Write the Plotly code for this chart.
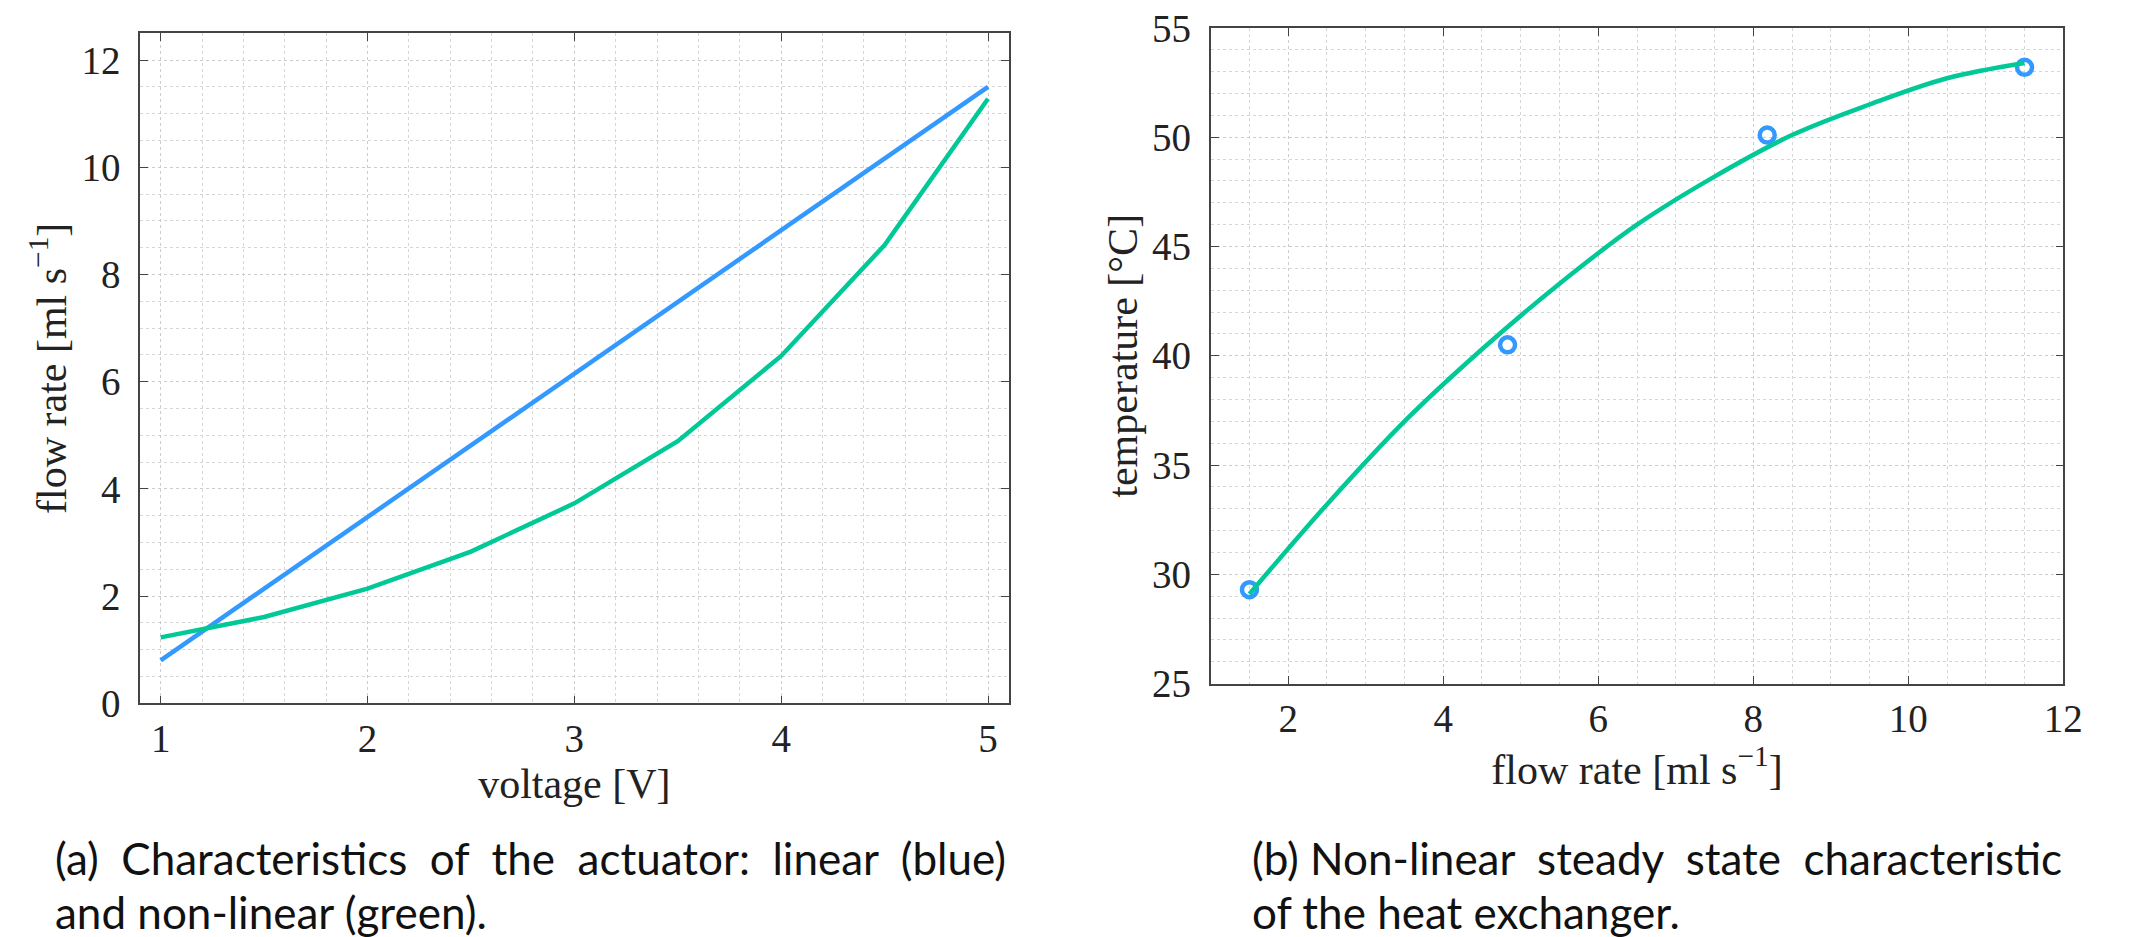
import plotly.graph_objects as go

# ---- data (a): actuator characteristics ----
voltage_lin = [1, 5]
flow_lin = [0.8, 11.5]
voltage_nl = [1, 1.5, 2, 2.5, 3, 3.5, 4, 4.5, 5]
flow_nl = [1.23, 1.61, 2.14, 2.83, 3.73, 4.89, 6.48, 8.55, 11.28]

# ---- data (b): heat exchanger steady state ----
meas_flow = [1.5, 4.83, 8.18, 11.5]
meas_temp = [29.3, 40.5, 50.1, 53.2]
fit_flow = [1.5, 2.5, 3.5, 4.5, 5.5, 6.5, 7.5, 8.5, 9.5, 10.5, 11.5]
fit_temp = [29.1, 33.2, 37.0, 40.3, 43.3, 46.0, 48.2, 50.1, 51.5, 52.7, 53.4]

x_ticks_a = [1, 2, 3, 4, 5]
y_ticks_a = [0, 2, 4, 6, 8, 10, 12]
x_ticks_b = [2, 4, 6, 8, 10, 12]
y_ticks_b = [25, 30, 35, 40, 45, 50, 55]

BLUE = "#3399FF"
GREEN = "#00C896"
W, H = 2129, 937

fig = go.Figure()
fig.add_trace(go.Scatter(x=voltage_lin, y=flow_lin, mode="lines",
                         line=dict(color=BLUE, width=4.5), xaxis="x", yaxis="y",
                         showlegend=False))
fig.add_trace(go.Scatter(x=voltage_nl, y=flow_nl, mode="lines",
                         line=dict(color=GREEN, width=4.5), xaxis="x", yaxis="y",
                         showlegend=False))
fig.add_trace(go.Scatter(x=meas_flow, y=meas_temp, mode="markers",
                         marker=dict(symbol="circle-open", size=15, color=BLUE,
                                     line=dict(width=4.5, color=BLUE)),
                         xaxis="x2", yaxis="y2", showlegend=False))
fig.add_trace(go.Scatter(x=fit_flow, y=fit_temp, mode="lines", line_shape="spline",
                         line=dict(color=GREEN, width=4.5), xaxis="x2", yaxis="y2",
                         showlegend=False))

tick_font = dict(family="Liberation Serif", size=39, color="#222222")
title_font = dict(family="Liberation Serif", size=42, color="#222222")
grid = dict(showgrid=True, gridcolor="#cccccc", gridwidth=1, griddash="dot")
common = dict(showline=True, linecolor="#444444", linewidth=1.6, mirror="ticks",
              ticks="inside", ticklen=8, tickwidth=1.4, tickcolor="#444444",
              tickfont=tick_font, zeroline=False, automargin=False, **grid)

def px_dom(a, b, total):
    return [a / total, b / total]

fig.update_layout(
    width=W, height=H, autosize=False,
    margin=dict(l=0, r=0, t=0, b=0),
    paper_bgcolor="white", plot_bgcolor="white",
    xaxis=dict(domain=px_dom(140, 1008.7, W), range=[0.9, 5.1], tickvals=x_ticks_a,
               anchor="y", ticklabelstandoff=0,
               title=dict(text="voltage [V]", font=title_font, standoff=10),
               minor=dict(dtick=0.2, tick0=1, showgrid=True, gridcolor="#d6d6d6",
                          griddash="dot", ticks=""),
               **common),
    yaxis=dict(domain=[(H - 703.3) / H, (H - 33.3) / H], range=[0, 12.5],
               tickvals=y_ticks_a, anchor="x", ticklabelstandoff=10,
               title=dict(text="flow rate [ml s<sup>−1</sup>]", font=title_font, standoff=2),
               minor=dict(dtick=0.5, tick0=0, showgrid=True, gridcolor="#d6d6d6",
                          griddash="dot", ticks=""),
               **common),
    xaxis2=dict(domain=px_dom(1210.7, 2063.3, W), range=[1, 12], tickvals=x_ticks_b,
                anchor="y2", ticklabelstandoff=0,
                title=dict(text="flow rate [ml s<sup>−1</sup>]", font=title_font, standoff=8),
                minor=dict(dtick=0.5, tick0=1, showgrid=True, gridcolor="#d6d6d6",
                           griddash="dot", ticks=""),
                **common),
    yaxis2=dict(domain=[(H - 683.6) / H, (H - 28) / H], range=[25, 55],
                tickvals=y_ticks_b, anchor="x2", ticklabelstandoff=10,
                title=dict(text="temperature [°C]", font=title_font, standoff=1),
                minor=dict(dtick=1, tick0=25, showgrid=True, gridcolor="#d6d6d6",
                           griddash="dot", ticks=""),
                **common),
)

cap_font = dict(family="Lato", size=44, color="#111111")
NB = "\u00a0"
captions = [
    (53, 858, f"(a){NB} Characteristics{NB} of{NB} the{NB} actuator:{NB} linear{NB} (blue)"),
    (53, 912, "and non-linear (green)."),
    (1250, 858, f"(b) Non-linear{NB} steady{NB} state{NB} characteristic"),
    (1250, 912, "of the heat exchanger."),
]
for x, y, t in captions:
    fig.add_annotation(text=t, x=x / W, y=(H - y) / H, xref="paper", yref="paper",
                       xanchor="left", yanchor="middle", showarrow=False,
                       font=cap_font, align="left")

fig.write_html("out.html", config={"displayModeBar": False},
               post_script="document.body.style.margin='0';document.body.style.overflow='hidden';")
